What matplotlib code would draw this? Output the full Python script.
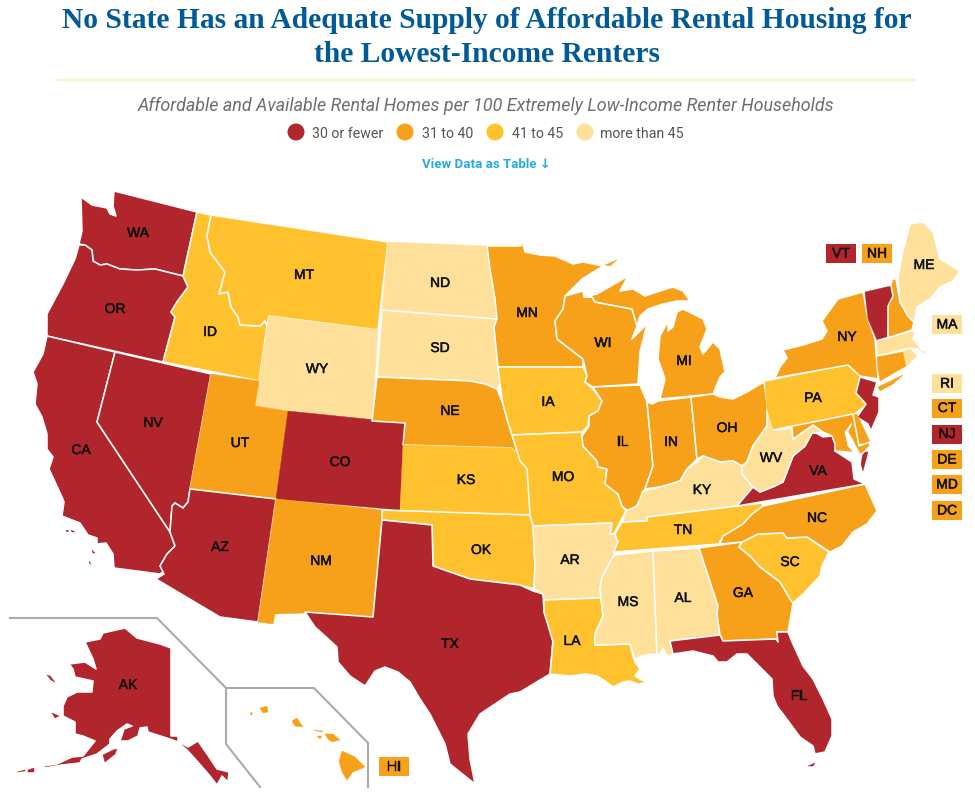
import matplotlib
matplotlib.use("Agg")
import matplotlib.pyplot as plt
from matplotlib.patches import Polygon, Circle, Rectangle
import matplotlib.patheffects as pe

TITLE = ["No State Has an Adequate Supply of Affordable Rental Housing for", "the Lowest-Income Renters"]
SUBTITLE = "Affordable and Available Rental Homes per 100 Extremely Low-Income Renter Households"
LINK = "View Data as Table \u2193"

CATEGORIES = ["30 or fewer", "31 to 40", "41 to 45", "more than 45"]
COLORS = ["#B1252C", "#F7A11A", "#FFC22E", "#FFE09A"]

FEWER_30 = ["WA", "OR", "CA", "NV", "AZ", "CO", "TX", "FL", "VA", "NJ", "VT", "AK"]
FROM_31_TO_40 = ["UT", "NM", "NE", "MN", "WI", "MI", "IL", "IN", "OH", "NY", "NH", "CT", "DE", "MD", "DC", "NC", "GA", "HI"]
FROM_41_TO_45 = ["ID", "MT", "KS", "OK", "IA", "MO", "LA", "TN", "SC", "PA"]
MORE_THAN_45 = ["WY", "ND", "SD", "AR", "MS", "AL", "KY", "WV", "ME", "MA", "RI"]
GROUPS = [FEWER_30, FROM_31_TO_40, FROM_41_TO_45, MORE_THAN_45]

# Map geometry: outlines traced in image pixels (no geographic dataset is available)
SHAPES = {
 "WA": [[(114,192),(197,213),(183,277),(155,270),(137,271),(120,270),(107,265),(100,266),(93,262),(92,251),(85,246),(79,245),(82,232),(81,198),(92,206),(107,209),(110,215),(116,217),(113,207)]],
 "OR": [[(79,246),(85,246),(92,251),(93,262),(100,266),(107,265),(120,270),(137,271),(155,270),(183,277),(188,288),(177,303),(171,313),(175,318),(163,363),(47,337),(47,315),(63,285),(75,260)]],
 "CA": [[(47,337),(115,353),(97,423),(168,530),(170,533),(175,547),(167,555),(160,567),(164,572),(160,575),(114,569),(113,555),(106,544),(97,545),(97,539),(88,536),(80,524),(62,517),(64,503),(62,498),(49,470),(53,458),(47,450),(47,435),(42,418),(35,405),(37,385),(33,373),(43,355)],
        [(66,531),(69,532),(67,533)],[(71,531),(75,533),(72,533)],[(92,551),(95,554),(93,554)],[(89,562),(91,565),(90,565)]],
 "NV": [[(115,353),(211,375),(190,490),(188,503),(183,509),(175,504),(172,507),(170,533),(168,530),(97,423)]],
 "ID": [[(197,213),(211,216),(207,237),(210,253),(225,273),(219,295),(228,293),(231,308),(238,318),(240,326),(260,327),(265,322),(267,327),(259,382),(163,363),(175,318),(171,313),(177,303),(188,288),(183,277)]],
 "MT": [[(211,216),(388,243),(378,331),(269,317),(267,327),(265,322),(260,327),(240,326),(238,318),(231,308),(228,293),(219,295),(225,273),(210,253),(207,237)]],
 "WY": [[(269,317),(378,331),(372,422),(255,407)]],
 "UT": [[(211,375),(259,382),(255,407),(288,412),(276,500),(190,489)]],
 "CO": [[(288,412),(405,424),(400,511),(276,500)]],
 "AZ": [[(190,490),(276,500),(258,623),(220,618),(156,580),(164,575),(160,567),(167,555),(175,547),(170,533),(172,507),(175,504),(183,509),(188,503)]],
 "NM": [[(276,500),(382,511),(373,618),(305,613),(304,614),(275,615),(273,625),(258,623)]],
 "ND": [[(388,243),(487,247),(490,270),(495,300),(497,320),(382,311)]],
 "SD": [[(382,311),(497,320),(494,328),(498,368),(500,385),(497,390),(485,385),(470,382),(377,378)]],
 "NE": [[(377,378),(470,382),(485,385),(497,390),(503,405),(507,420),(512,436),(518,455),(511,449),(403,446),(405,424),(372,422)]],
 "KS": [[(403,446),(511,449),(518,455),(520,462),(527,470),(530,516),(400,511)]],
 "OK": [[(382,511),(530,516),(533,527),(535,567),(534,590),(520,586),(495,583),(470,580),(450,573),(433,567),(432,526),(382,521)]],
 "TX": [[(382,521),(432,526),(433,567),(450,573),(470,580),(495,583),(520,586),(533,592),(543,595),(544,613),(553,640),(550,675),(520,693),(510,695),(480,715),(468,735),(470,760),(475,785),(450,765),(445,745),(430,715),(420,700),(410,683),(398,673),(385,668),(375,672),(365,687),(350,677),(338,663),(337,648),(325,637),(315,628),(305,613),(373,618)]],
 "MN": [[(487,247),(521,247),(521,238),(525,253),(540,256),(555,257),(573,265),(583,263),(603,267),(582,280),(565,297),(563,310),(555,322),(557,340),(570,350),(583,360),(583,368),(498,368),(494,328),(497,320),(495,300),(490,270)]],
 "IA": [[(498,368),(583,368),(587,377),(585,383),(593,390),(602,402),(598,412),(589,417),(588,427),(582,433),(512,436),(507,420),(503,405),(500,385)]],
 "MO": [[(512,436),(582,433),(583,447),(597,462),(598,468),(607,470),(605,485),(618,495),(622,507),(626,512),(620,523),(614,535),(610,535),(612,524),(533,527),(530,516),(527,470),(520,462),(518,455)]],
 "AR": [[(533,527),(612,524),(610,535),(615,535),(618,543),(614,552),(615,557),(608,567),(602,578),(600,590),(601,599),(544,601),(543,595),(534,590),(535,567)]],
 "LA": [[(544,601),(601,599),(603,617),(595,635),(595,646),(630,645),(633,657),(635,663),(640,670),(635,677),(647,684),(638,685),(630,682),(623,683),(613,688),(605,682),(597,677),(585,675),(570,677),(550,675),(553,643),(544,613)]],
 "WI": [[(565,297),(583,292),(584,298),(592,298),(595,303),(632,310),(637,327),(632,340),(647,325),(640,353),(638,385),(593,388),(585,383),(587,377),(583,360),(570,350),(557,340),(555,322),(563,310)]],
 "MI": [[(584,298),(597,295),(618,283),(628,277),(620,292),(633,290),(645,297),(660,292),(673,288),(683,292),(690,302),(677,302),(663,305),(648,310),(640,317),(637,327),(632,310),(595,303),(592,298)],
        [(660,400),(665,380),(658,360),(660,337),(668,322),(668,332),(673,328),(677,313),(683,310),(703,320),(707,330),(700,348),(703,355),(713,343),(720,350),(725,373),(720,378),(713,395)],
        [(605,266),(617,261),(610,267)]],
 "IL": [[(593,388),(640,386),(647,403),(653,467),(645,490),(637,507),(628,512),(622,507),(618,495),(605,485),(607,470),(598,468),(597,462),(583,447),(582,437),(589,427),(589,417),(598,412),(602,402)]],
 "IN": [[(647,403),(652,405),(658,402),(691,398),(697,460),(687,470),(680,482),(667,487),(645,490),(653,467)]],
 "OH": [[(691,398),(713,395),(720,398),(733,400),(747,393),(764,383),(768,412),(767,427),(753,447),(747,463),(742,467),(733,462),(720,463),(703,457),(697,460)]],
 "KY": [[(622,523),(626,512),(637,507),(643,492),(660,488),(680,482),(687,470),(697,463),(703,457),(720,463),(733,462),(742,467),(742,475),(753,488),(737,507),(647,518),(647,522)]],
 "TN": [[(622,523),(647,522),(647,518),(762,504),(763,507),(750,518),(742,528),(728,535),(720,542),(719,545),(615,553),(614,552),(618,543),(615,535)]],
 "MS": [[(614,556),(653,552),(657,655),(645,656),(635,660),(630,645),(595,646),(595,635),(603,617),(601,599),(600,590),(602,578),(608,567)]],
 "AL": [[(653,552),(699,549),(718,607),(717,615),(720,636),(670,642),(674,655),(667,657),(663,649),(660,655),(657,655)]],
 "GA": [[(699,549),(742,543),(739,548),(750,557),(760,568),(780,583),(790,600),(793,604),(788,633),(777,633),(778,643),(776,640),(723,642),(720,636),(717,615),(718,607)]],
 "FL": [[(670,642),(720,636),(723,642),(776,640),(778,643),(777,633),(788,633),(792,643),(803,667),(813,680),(823,700),(832,720),(832,737),(825,753),(815,755),(813,747),(800,738),(792,727),(777,707),(773,697),(772,680),(760,668),(747,655),(737,655),(727,663),(718,663),(713,657),(693,652),(673,655)],
        [(808,767),(815,764),(813,767)]],
 "SC": [[(742,543),(758,535),(783,534),(787,539),(807,538),(829,553),(822,567),(820,577),(803,595),(793,604),(790,600),(780,583),(760,568),(750,557),(739,548)]],
 "NC": [[(720,545),(723,537),(743,525),(752,515),(763,507),(865,485),(873,503),(877,512),(867,525),(853,533),(842,547),(830,553),(807,538),(787,539),(783,534),(758,535),(742,543)]],
 "VA": [[(737,507),(753,488),(760,493),(775,487),(783,483),(793,457),(805,447),(812,434),(816,434),(823,438),(832,437),(837,443),(835,452),(852,463),(854,480),(865,485)],
        [(863,453),(868,453),(863,472),(861,465)]],
 "WV": [[(767,410),(773,431),(792,429),(793,440),(813,426),(823,433),(816,434),(812,434),(805,447),(793,457),(783,483),(775,487),(760,493),(753,488),(742,475),(742,467),(747,463),(753,447),(767,427)]],
 "PA": [[(765,383),(848,366),(860,377),(856,394),(866,405),(853,415),(773,431),(767,410)]],
 "NY": [[(775,379),(780,368),(787,359),(783,351),(803,346),(822,340),(827,332),(822,322),(838,300),(863,293),(868,320),(875,340),(878,380),(860,377),(848,366)],
        [(878,388),(903,376),(893,385),(880,392)]],
 "NJ": [[(860,378),(877,383),(873,396),(879,398),(879,413),(871,432),(868,425),(857,418),(866,405),(856,394)]],
 "VT": [[(865,293),(891,287),(893,297),(888,307),(887,338),(877,341),(868,320)]],
 "NH": [[(892,280),(896,280),(900,303),(908,317),(914,323),(912,331),(888,339),(888,307),(893,297),(891,287)]],
 "ME": [[(898,278),(903,252),(910,225),(923,223),(933,233),(940,260),(960,272),(953,282),(940,288),(930,300),(917,308),(914,323),(908,317),(900,303)]],
 "MA": [[(876,342),(912,332),(915,333),(913,340),(923,352),(933,350),(923,355),(918,350),(910,349),(877,357)]],
 "RI": [[(903,352),(910,350),(917,357),(907,367)]],
 "CT": [[(877,358),(903,353),(906,367),(880,382),(878,370)]],
 "DE": [[(853,416),(857,415),(870,443),(859,445)]],
 "MD": [[(773,431),(853,415),(859,447),(870,443),(870,447),(862,455),(848,453),(835,452),(835,445),(832,437),(823,433),(813,426),(793,440),(792,429)]],
 "AK": [[(85,643),(100,640),(103,634),(125,629),(137,639),(160,645),(171,649),(171,737),(178,737),(178,742),(188,748),(198,742),(207,755),(217,770),(229,773),(228,783),(222,777),(217,786),(210,777),(197,762),(188,752),(178,743),(170,740),(148,733),(147,728),(140,729),(138,737),(128,742),(120,742),(124,730),(132,727),(127,725),(117,732),(110,740),(110,745),(97,755),(82,760),(80,764),(62,766),(45,769),(43,767),(57,765),(72,758),(83,757),(95,742),(83,737),(75,735),(75,723),(63,717),(63,707),(67,698),(77,693),(92,693),(93,682),(75,678),(73,670),(69,665),(85,663),(96,670),(93,660)],
        [(103,756),(113,751),(117,750),(115,755),(105,763)],[(47,676),(50,677),(55,683),(51,681)],[(52,714),(59,717),(55,719)],
        [(17,773),(25,771),(25,772)],[(28,771),(34,769),(34,773),(28,773)]],
 "HI": [[(342,752),(355,758),(365,768),(353,773),(347,781),(342,773),(339,762)],[(325,735),(333,735),(340,741),(332,743),(328,740)],
        [(292,722),(297,719),(303,728),(295,727)],[(260,709),(267,707),(268,713),(263,714)],[(313,731),(323,732),(322,733)],
        [(317,737),(322,737),(320,740)],[(250,715),(252,713),(252,716)]],
}
BAY = [(852,424),(845,433),(848,447),(857,457),(855,470),(860,472),(861,457),(852,440),(848,433)]

LABEL_XY = {"WA":(138,234),"OR":(115,310),"CA":(81,451),"NV":(153,424),"ID":(210,333),"MT":(304,276),"WY":(317,370),"UT":(240,444),
 "AZ":(220,548),"CO":(340,463),"NM":(321,562),"ND":(440,284),"SD":(440,349),"NE":(450,412),"KS":(466,481),"OK":(481,551),"TX":(450,645),
 "MN":(527,314),"IA":(548,403),"MO":(563,478),"AR":(570,561),"LA":(572,642),"WI":(603,344),"IL":(623,443),"IN":(671,443),"MI":(684,362),
 "OH":(727,429),"KY":(702,491),"TN":(683,531),"MS":(628,603),"AL":(683,599),"GA":(743,594),"FL":(799,697),"SC":(790,563),"NC":(817,519),
 "VA":(818,472),"WV":(771,459),"PA":(813,399),"NY":(847,338),"ME":(924,266),"AK":(128,686)}
BOX_XY = {"VT":(841,254.5),"NH":(877,254.5),"MA":(947,325.5),"RI":(947,384.5),"CT":(947,409),"NJ":(947,435),"DE":(947,460.5),"MD":(947,485.5),"DC":(947,511.5),"HI":(394,767.5)}

state_color = {s: c for group, c in zip(GROUPS, COLORS) for s in group}
WHITE = "#FFFFFF"

fig = plt.figure(figsize=(9.75, 8.12), dpi=100)
ax = fig.add_axes([0, 0, 1, 1])
ax.set_xlim(0, 975); ax.set_ylim(812, 0); ax.axis("off")

for s, rings in SHAPES.items():
    for ring in rings:
        ax.add_patch(Polygon(ring, closed=True, fc=state_color[s], ec=WHITE if len(ring) > 8 else state_color[s], lw=1.1 if len(ring) > 8 else 0.3, joinstyle="round", zorder=2))
ax.add_patch(Polygon(BAY, closed=True, fc=WHITE, ec=WHITE, lw=0.5, zorder=3))

for pts in ([(10,619),(157,619),(226,689),(314,689),(368,744),(368,788)], [(226,689),(226,745),(260,788)]):
    ax.plot(*zip(*pts), color="#ABABAB", lw=1.5, zorder=1, solid_joinstyle="miter")

semi = [pe.withStroke(linewidth=0.35, foreground="#111111")]
for s, (x, y) in LABEL_XY.items():
    ax.text(x, y, s, ha="center", va="center", fontsize=10, family="Liberation Sans", color="#111111", path_effects=semi, zorder=5)
for s, (x, y) in BOX_XY.items():
    ax.add_patch(Rectangle((x-15, y-9.5), 30, 19, fc=state_color[s], ec="none", zorder=4))
    ax.text(x, y, s, ha="center", va="center", fontsize=10, family="Liberation Sans", color="#111111", path_effects=semi, zorder=5)

ax.text(487, 20.5, TITLE[0], ha="center", va="center", fontsize=21.25, fontweight="bold", family="Liberation Serif", color="#005A96")
ax.text(487, 55, TITLE[1], ha="center", va="center", fontsize=21.25, fontweight="bold", family="Liberation Serif", color="#005A96")
ax.plot([57, 915], [81, 81], color="#FFF0C4", lw=1.5)
ax.text(486, 105.5, SUBTITLE, ha="center", va="center", fontsize=12.9, style="italic", family="Roboto", color="#6E6E6E")

DOT_X = [296, 405, 495, 585]
TEXT_X = [312, 422, 512, 600]
for cat, col, dx, tx in zip(CATEGORIES, COLORS, DOT_X, TEXT_X):
    ax.add_patch(Circle((dx, 133), 8.5, fc=col, ec="none"))
    ax.text(tx, 134.5, cat, ha="left", va="center", fontsize=10.2, family="Roboto", color="#555555")
ax.text(486, 164.5, LINK, ha="center", va="center", fontsize=9.5, fontweight="bold", family=["Roboto", "DejaVu Sans"], color="#29ABE2")

fig.savefig("out.png", dpi=100)
